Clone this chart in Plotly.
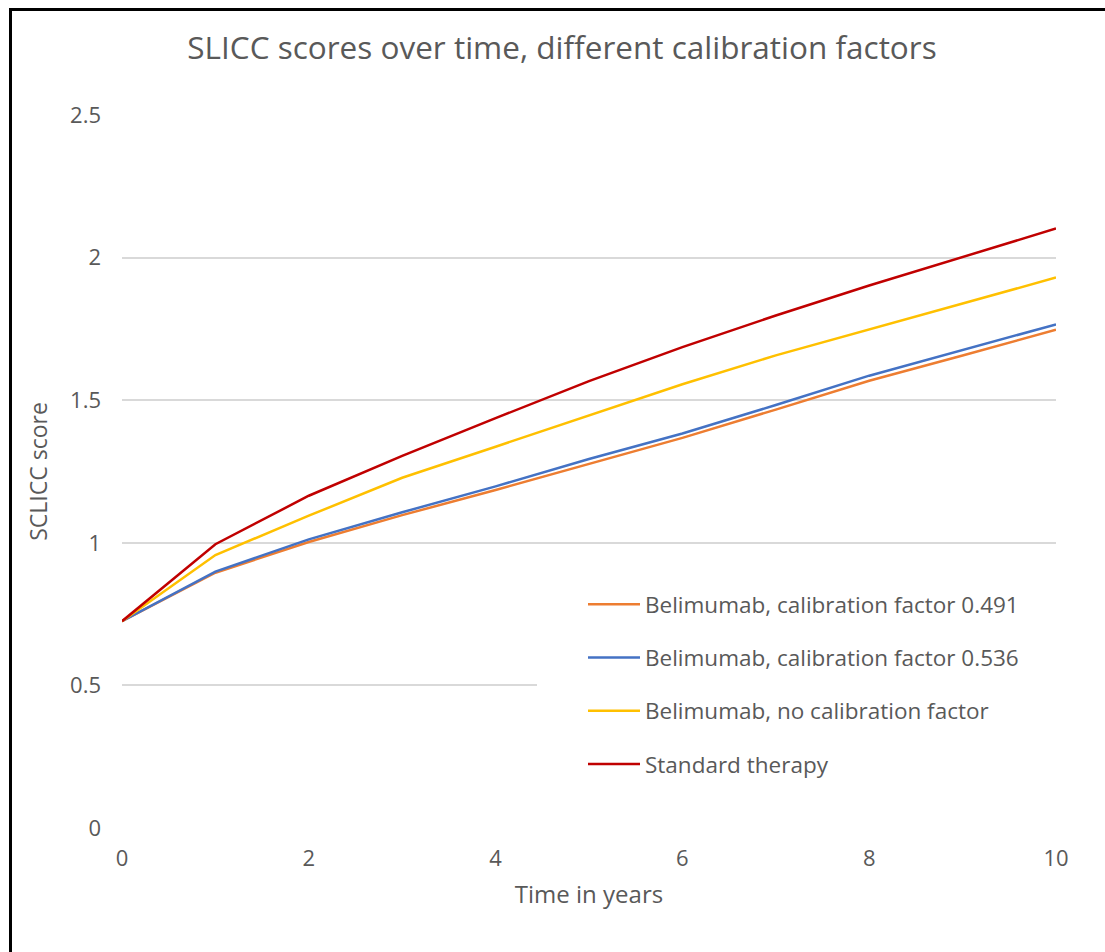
import plotly.graph_objects as go

years = [0, 1, 2, 3, 4, 5, 6, 7, 8, 9, 10]
series_names = [
    "Belimumab, calibration factor 0.491",
    "Belimumab, calibration factor 0.536",
    "Belimumab, no calibration factor",
    "Standard therapy",
]
cal_0491 = [0.725, 0.895, 1.003, 1.097, 1.185, 1.277, 1.368, 1.467, 1.568, 1.657, 1.747]
cal_0536 = [0.725, 0.899, 1.012, 1.107, 1.198, 1.294, 1.383, 1.483, 1.586, 1.676, 1.766]
no_cal = [0.725, 0.957, 1.095, 1.228, 1.337, 1.447, 1.556, 1.657, 1.748, 1.840, 1.930]
standard = [0.725, 0.995, 1.165, 1.305, 1.437, 1.567, 1.686, 1.797, 1.902, 2.003, 2.102]
colors = ["#ED7D31", "#4472C4", "#FFC000", "#C00000"]

W, H = 1105, 952
L, R, T, B = 122, 1056, 115, 828
FONT = "Open Sans"
TXT = "#595959"

fig = go.Figure()
for i, (name, ys) in enumerate(zip(series_names, [cal_0491, cal_0536, no_cal, standard])):
    fig.add_trace(go.Scatter(
        x=years, y=ys, mode="lines", name=name,
        line=dict(color=colors[i], width=2.5),
        legendgroup=f"g{i}",
    ))

def px_x(p):
    return (p - L) / (R - L)

def px_y(p):
    return (B - p) / (B - T)

def ax_x(p):
    return 10 * px_x(p)

def ax_y(p):
    return 2.5 * px_y(p)

shapes = [
    # white legend area hiding gridlines (between grid and traces)
    dict(type="rect", xref="x", yref="y", layer="between",
         x0=ax_x(537), x1=ax_x(1060), y0=ax_y(800), y1=ax_y(575),
         fillcolor="white", line=dict(width=0)),
    # outer frame (top and left)
    dict(type="line", xref="paper", yref="paper", x0=px_x(9), x1=px_x(1110),
         y0=px_y(9.5), y1=px_y(9.5), line=dict(color="black", width=3)),
    dict(type="line", xref="paper", yref="paper", x0=px_x(10.5), x1=px_x(10.5),
         y0=px_y(8), y1=px_y(960), line=dict(color="black", width=3)),
]

fig.update_layout(
    width=W, height=H,
    margin=dict(l=L, r=W - R, t=T, b=H - B),
    paper_bgcolor="white", plot_bgcolor="white",
    font=dict(family=FONT, color=TXT, size=22),
    title=dict(text="SLICC scores over time, different calibration factors",
               x=562 / W, xanchor="center", xref="container", y=1 - 48 / H, yanchor="middle",
               font=dict(size=31.5, color=TXT, family=FONT)),
    xaxis=dict(range=[0, 10], tickvals=[0, 2, 4, 6, 8, 10], showgrid=False,
               zeroline=False, showline=False, ticks="", ticklabelstandoff=15,
               tickfont=dict(size=22, color=TXT),
               title=dict(text="Time in years", standoff=15, font=dict(size=24, color=TXT))),
    yaxis=dict(range=[0, 2.5], tickvals=[0, 0.5, 1, 1.5, 2, 2.5], showgrid=True,
               gridcolor="#D9D9D9", gridwidth=2, zeroline=False, showline=False,
               ticks="", ticklabelstandoff=20, tickfont=dict(size=22, color=TXT),
               title=dict(text="SCLICC score", standoff=16, font=dict(size=23, color=TXT))),
    legend=dict(x=px_x(583), xanchor="left", y=px_y(583), yanchor="top",
                bgcolor="rgba(0,0,0,0)", font=dict(size=22.5, color=TXT),
                tracegroupgap=21, itemwidth=52),
    shapes=shapes,
    showlegend=True,
)

fig.write_html("out.html", config={"displayModeBar": False},
               post_script="document.body.style.margin='0px';")
